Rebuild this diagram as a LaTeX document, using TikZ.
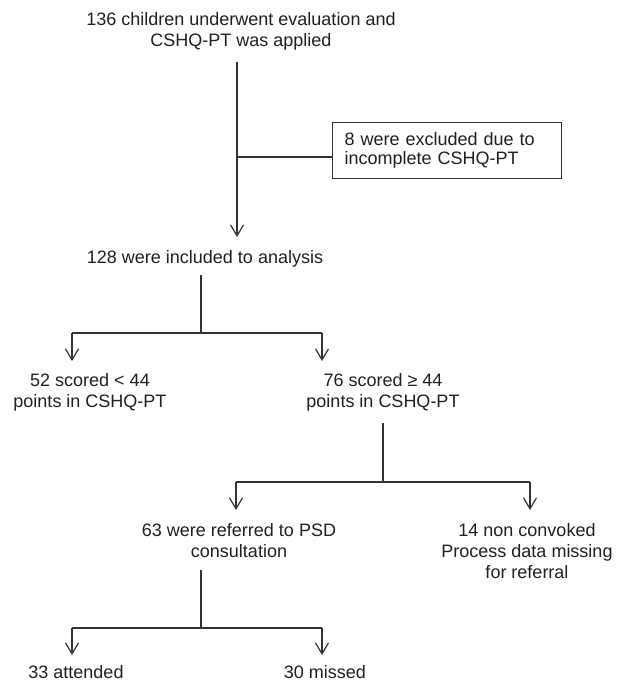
\documentclass[tikz,border=0pt]{standalone}
\usepackage{fontspec}
\setmainfont{Liberation Sans}
\usetikzlibrary{arrows.meta}
\definecolor{ink}{HTML}{231F20}
\definecolor{linec}{HTML}{333333}
\begin{document}
\begin{tikzpicture}[x=1pt,y=-1pt,
  txt/.style={inner sep=0pt, align=center, anchor=base, text=ink,
    font=\fontsize{18pt}{21pt}\selectfont},
  boxst/.style={draw=linec, line width=1.1pt, text=ink, align=left,
    font=\fontsize{18pt}{21pt}\selectfont, anchor=north west,
    text width=205pt, inner xsep=12pt, minimum height=56pt},
  ln/.style={draw=linec, line width=1.2pt},
  arr/.style={ln, -{Straight Barb[length=11pt,width=13pt,line width=1.2pt]}}]
\useasboundingbox (0,0) rectangle (617,682);

% nodes (base anchor = baseline of the last line)
\node[txt] (n1) at (241,47) {136 children underwent evaluation and\\CSHQ-PT was applied};
\node[boxst] (exc) at (332,122) {\raisebox{-2pt}{8 were excluded due to}\\incomplete CSHQ-PT};
\node[txt] (n2) at (205,263) {128 were included to analysis};
\node[txt] (lo) at (90,407) {52 scored < 44\\points in CSHQ-PT};
\node[txt] (hi) at (383,407) {76 scored ≥ 44\\points in CSHQ-PT};
\node[txt] (ref) at (239,557) {63 were referred to PSD\\consultation};
\node[txt] (nc) at (527,578) {14 non convoked\\Process data missing\\for referral};
\node[txt] (att) at (76,678) {33 attended};
\node[txt] (mis) at (325,678) {30 missed};

% junction coordinates
\coordinate (t1) at (237,62);
\coordinate (j1) at (237,157);
\coordinate (e1) at (237,237);
\coordinate (t2) at (201,275);
\coordinate (j2) at (201,333);
\coordinate (l2) at (72,333);
\coordinate (r2) at (322,333);
\coordinate (le) at (72,361);
\coordinate (re) at (322,361);
\coordinate (t3) at (383,423);
\coordinate (j3) at (383,482);
\coordinate (l3) at (236,482);
\coordinate (r3) at (530,482);
\coordinate (le3) at (236,510);
\coordinate (re3) at (530,510);
\coordinate (t4) at (201,570);
\coordinate (j4) at (201,628);
\coordinate (l4) at (72,628);
\coordinate (r4) at (322,628);
\coordinate (le4) at (72,655);
\coordinate (re4) at (322,655);

% connectors
\draw[arr] (t1) -- (e1);
\draw[ln] (j1) -- (exc.west |- j1);
\draw[ln] (t2) -- (j2);
\draw[ln] (l2) -- (r2);
\draw[arr] (l2) -- (le);
\draw[arr] (r2) -- (re);
\draw[ln] (t3) -- (j3);
\draw[ln] (l3) -- (r3);
\draw[arr] (l3) -- (le3);
\draw[arr] (r3) -- (re3);
\draw[ln] (t4) -- (j4);
\draw[ln] (l4) -- (r4);
\draw[arr] (l4) -- (le4);
\draw[arr] (r4) -- (re4);
\end{tikzpicture}
\end{document}
